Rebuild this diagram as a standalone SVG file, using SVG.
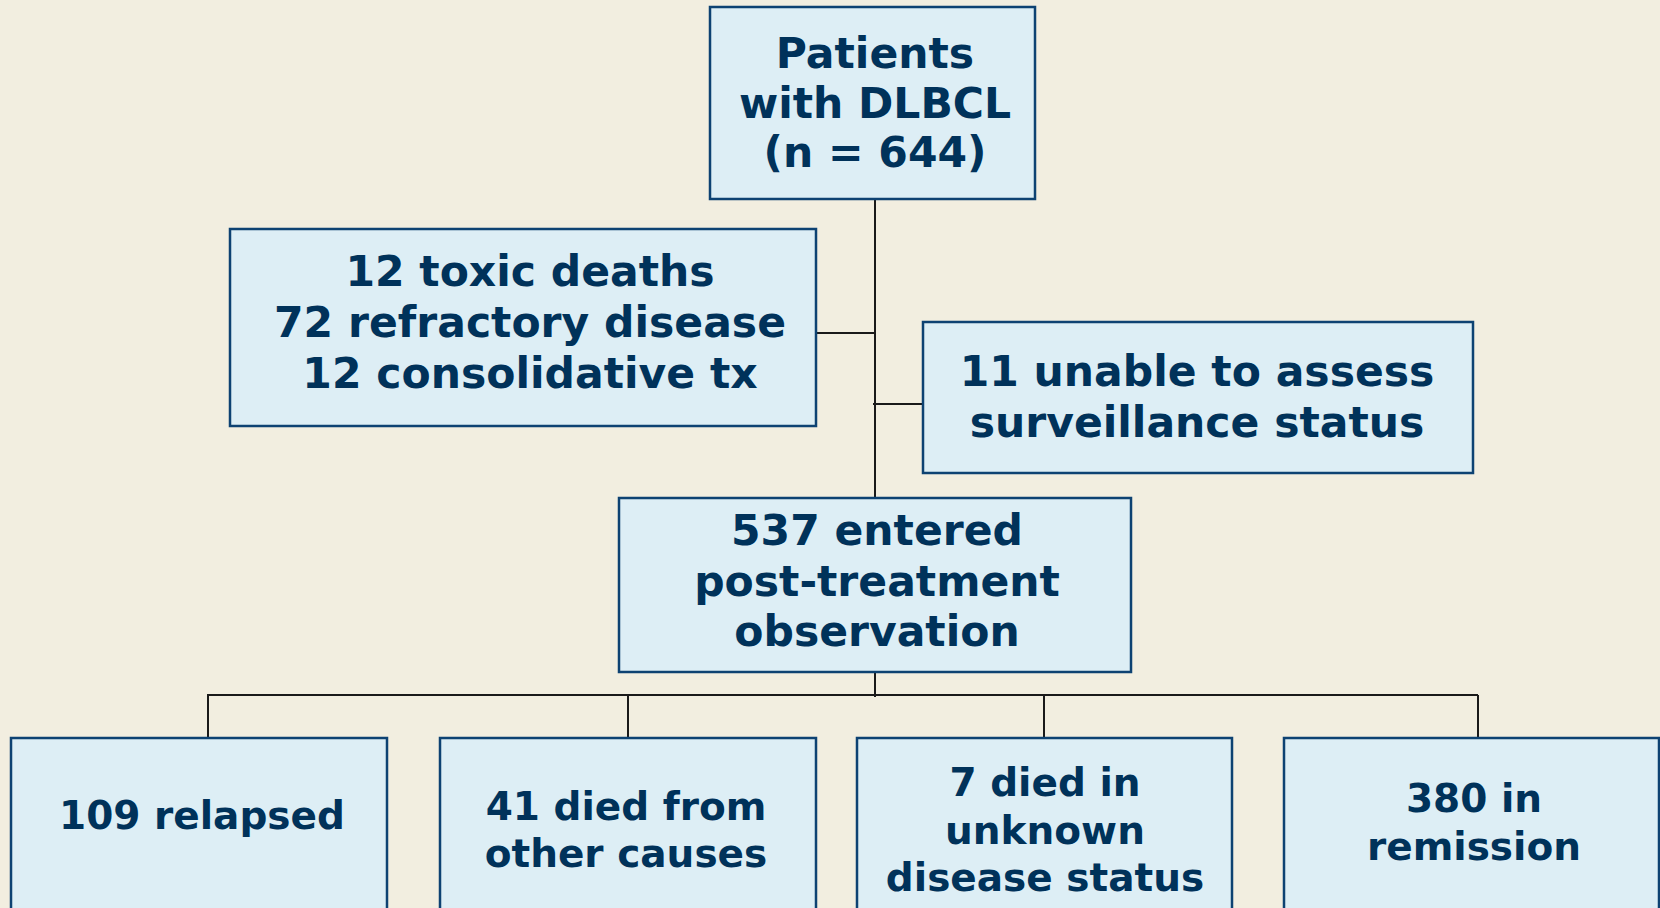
<svg xmlns="http://www.w3.org/2000/svg" width="1660" height="908" viewBox="0 0 1660 908">
<style>
.box{fill:#ddeef5;stroke:#0d4272;stroke-width:2.5}
.t{font-family:"DejaVu Sans",Verdana,sans-serif;font-weight:bold;fill:#00325a;text-anchor:middle}
.big{font-size:42.5px}
.sm{font-size:39px}
.ln{stroke:#1a1a1a;stroke-width:2;fill:none}
</style>
<rect width="1660" height="908" fill="#f2eee0"/>
<g id="connectors">
<path class="ln" d="M875 199V498M875 672V697M816 333H875M873 404H923M207 695H1478M208 695V738M628 695V738M1044 695V738M1478 695V738"/>
</g>
<g id="patients">
<rect class="box" x="710" y="7" width="325" height="192"/>
<text class="t big" x="875" y="68">Patients</text>
<text class="t big" x="875" y="118">with DLBCL</text>
<text class="t big" x="875" y="167">(n = 644)</text>
</g>
<g id="excluded">
<rect class="box" x="230" y="229" width="586" height="197"/>
<text class="t big" x="530" y="286">12 toxic deaths</text>
<text class="t big" x="530" y="337">72 refractory disease</text>
<text class="t big" x="530" y="388">12 consolidative tx</text>
</g>
<g id="unable">
<rect class="box" x="923" y="322" width="550" height="151"/>
<text class="t big" x="1197" y="386">11 unable to assess</text>
<text class="t big" x="1197" y="437">surveillance status</text>
</g>
<g id="entered">
<rect class="box" x="619" y="498" width="512" height="174"/>
<text class="t big" x="877" y="545">537 entered</text>
<text class="t big" x="877" y="596">post-treatment</text>
<text class="t big" x="877" y="646">observation</text>
</g>
<g id="relapsed">
<rect class="box" x="11" y="738" width="376" height="190"/>
<text class="t sm" x="202" y="829">109 relapsed</text>
</g>
<g id="died-other">
<rect class="box" x="440" y="738" width="376" height="190"/>
<text class="t sm" x="626" y="820">41 died from</text>
<text class="t sm" x="626" y="867">other causes</text>
</g>
<g id="died-unknown">
<rect class="box" x="857" y="738" width="375" height="190"/>
<text class="t sm" x="1045" y="796">7 died in</text>
<text class="t sm" x="1045" y="844">unknown</text>
<text class="t sm" x="1045" y="891">disease status</text>
</g>
<g id="remission">
<rect class="box" x="1284" y="738" width="375" height="190"/>
<text class="t sm" x="1474" y="812">380 in</text>
<text class="t sm" x="1474" y="860">remission</text>
</g>
</svg>
